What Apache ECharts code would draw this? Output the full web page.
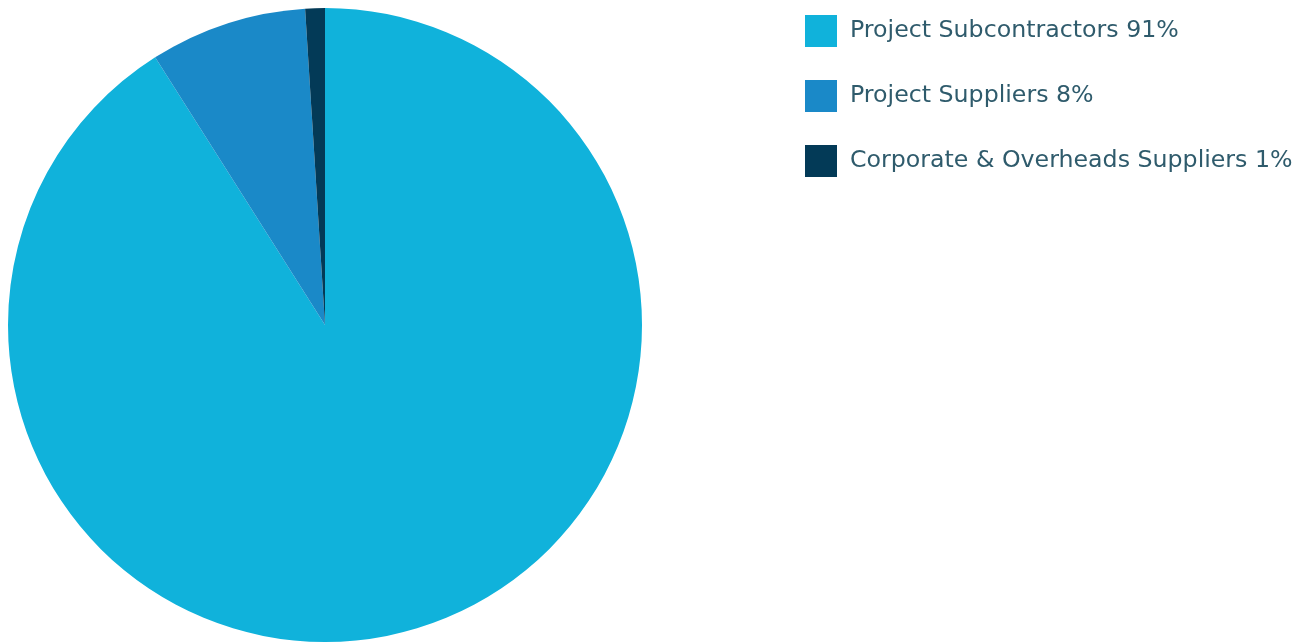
<!DOCTYPE html>
<html><head><meta charset="utf-8">
<script src="https://cdn.jsdelivr.net/npm/echarts@6/dist/echarts.min.js"></script>
<style>html,body{margin:0;padding:0;background:#fff}#c{width:1311px;height:642px}</style>
</head><body><div id="c"></div>
<script>
var categories = ['Project Subcontractors', 'Project Suppliers', 'Corporate & Overheads Suppliers'];
var values = [91, 8, 1];
var colors = ['#10b2db', '#1a89c8', '#033a57'];

var data = categories.map(function (n, i) { return { name: n, value: values[i], itemStyle: { color: colors[i] } }; });
var chart = echarts.init(document.getElementById('c'));
chart.setOption({
  animation: false,
  legend: {
    orient: 'vertical', left: 800, top: 10,
    itemWidth: 32, itemHeight: 32, itemGap: 33,
    icon: 'rect',
    textStyle: { fontFamily: 'DejaVu Sans', fontSize: 23.7, color: '#2f5b6c', padding: [0, 0, 0, 8] },
    formatter: function (n) { return n + ' ' + values[categories.indexOf(n)] + '%'; },
    selectedMode: false
  },
  series: [{
    type: 'pie', center: [325, 325], radius: 317, startAngle: 90, clockwise: true,
    label: { show: false }, labelLine: { show: false },
    itemStyle: { borderWidth: 0 },
    emphasis: { disabled: true },
    data: data
  }]
});
</script></body></html>
